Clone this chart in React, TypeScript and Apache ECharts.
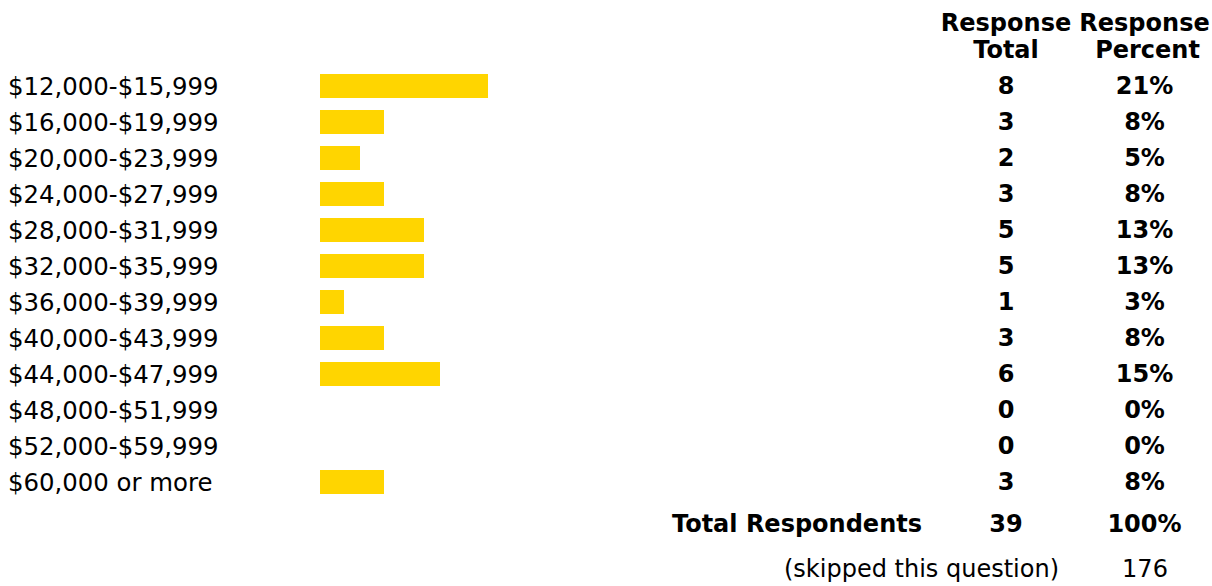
import React, { useEffect, useRef } from "react";
import * as echarts from "echarts";

const categories = [
  "$12,000-$15,999",
  "$16,000-$19,999",
  "$20,000-$23,999",
  "$24,000-$27,999",
  "$28,000-$31,999",
  "$32,000-$35,999",
  "$36,000-$39,999",
  "$40,000-$43,999",
  "$44,000-$47,999",
  "$48,000-$51,999",
  "$52,000-$59,999",
  "$60,000 or more",
];
const responseTotals = [8, 3, 2, 3, 5, 5, 1, 3, 6, 0, 0, 3];
const responsePercents = [21, 8, 5, 8, 13, 13, 3, 8, 15, 0, 0, 8];
const headerLine1 = ["Response", "Response"];
const headerLine2 = ["Total", "Percent"];
const totalRespondentsLabel = "Total Respondents";
const totalRespondents = 39;
const totalPercent = "100%";
const skippedLabel = "(skipped this question)";
const skippedCount = 176;

const FONT = "'DejaVu Sans', Verdana, sans-serif";
const GRID_LEFT = 320;
const TOTAL_X = 1006;
const PERCENT_X = 1144.5;

export default function App() {
  const ref = useRef<HTMLDivElement>(null);
  useEffect(() => {
    if (!ref.current) return;
    const chart = echarts.init(ref.current, undefined, { renderer: "svg" });
    const hidden = {
      axisLine: { show: false, onZero: false },
      axisTick: { show: false },
      splitLine: { show: false },
    };
    const boldText = (text: string, x: number, y: number, align: string) => ({
      type: "text",
      x,
      y,
      style: {
        text,
        fill: "#000",
        font: `bold 24px ${FONT}`,
        textAlign: align,
        textVerticalAlign: "middle",
      },
    });
    chart.setOption({
      animation: false,
      backgroundColor: "#fff",
      grid: { left: GRID_LEFT, top: 68, width: 800, height: 432 },
      xAxis: { type: "value", min: 0, max: 100, show: false },
      yAxis: [
        {
          type: "category",
          data: categories,
          inverse: true,
          position: "left",
          ...hidden,
          axisLabel: {
            align: "left",
            margin: GRID_LEFT - 8,
            fontFamily: FONT,
            fontSize: 24.4,
            color: "#000",
          },
        },
        {
          type: "category",
          data: responseTotals.map(String),
          inverse: true,
          position: "left",
          offset: -(TOTAL_X - GRID_LEFT),
          ...hidden,
          axisLabel: {
            align: "center",
            margin: 0,
            fontFamily: FONT,
            fontSize: 24,
            fontWeight: "bold",
            color: "#000",
          },
        },
        {
          type: "category",
          data: responsePercents.map((p) => p + "%"),
          inverse: true,
          position: "left",
          offset: -(PERCENT_X - GRID_LEFT),
          ...hidden,
          axisLabel: {
            align: "center",
            margin: 0,
            fontFamily: FONT,
            fontSize: 24,
            fontWeight: "bold",
            color: "#000",
          },
        },
      ],
      series: [
        {
          type: "bar",
          data: responsePercents,
          barWidth: 24,
          itemStyle: { color: "#FFD500" },
          silent: true,
        },
      ],
      graphic: [
        boldText(headerLine1[0], TOTAL_X, 23, "center"),
        boldText(headerLine1[1], PERCENT_X, 23, "center"),
        boldText(headerLine2[0], TOTAL_X, 50, "center"),
        boldText(headerLine2[1], PERCENT_X + 3, 50, "center"),
        boldText(totalRespondentsLabel, 922, 524, "right"),
        boldText(String(totalRespondents), TOTAL_X, 524, "center"),
        boldText(totalPercent, PERCENT_X, 524, "center"),
        {
          type: "text",
          x: 1059,
          y: 569,
          style: {
            text: skippedLabel,
            fill: "#000",
            font: `24px ${FONT}`,
            textAlign: "right",
            textVerticalAlign: "middle",
          },
        },
        {
          type: "text",
          x: 1145,
          y: 569,
          style: {
            text: String(skippedCount),
            fill: "#000",
            font: `24px ${FONT}`,
            textAlign: "center",
            textVerticalAlign: "middle",
          },
        },
      ],
    });
    return () => chart.dispose();
  }, []);
  return (
    <div
      ref={ref}
      style={{ position: "absolute", left: 0, top: 0, width: 1212, height: 586 }}
    />
  );
}
